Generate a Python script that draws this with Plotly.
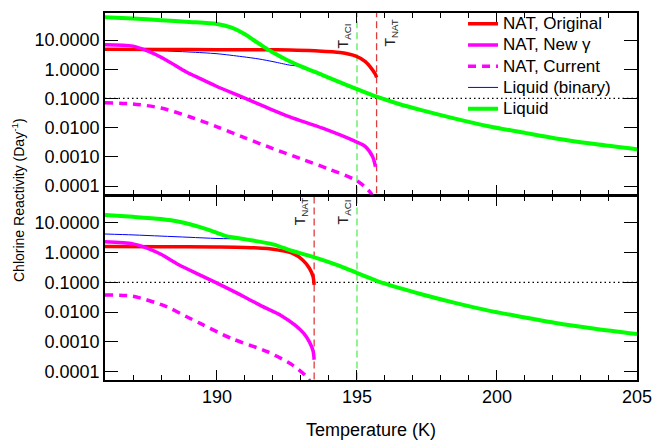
import plotly.graph_objects as go

# ---------------- data ----------------
# Top panel
liq_top_T = [186, 187, 188, 189, 190, 190.5, 191, 191.3, 191.7, 192.05, 192.5, 193, 193.77,
             194.4, 195.0, 195.7, 196.5, 197.3, 198.5, 199.7, 201, 202.1, 203.5, 205]
liq_top_v = [60.0, 54.3, 47.9, 41.7, 35.3, 26.9, 15.8, 10.0, 5.62, 3.51, 2.07, 1.26, 0.631,
             0.355, 0.209, 0.115, 0.0646, 0.0398, 0.0204, 0.0112, 0.00661, 0.00427, 0.00275, 0.00182]

bin_top_T = [186, 187, 188, 189, 190, 190.9, 191.5, 192, 192.3, 192.6, 193, 193.77, 194.4,
             195.0, 195.7, 196.5, 197.3, 198.5, 199.7, 201, 202.1, 203.5, 205]
bin_top_v = [4.79, 4.52, 4.27, 3.89, 3.39, 2.69, 2.24, 1.82, 1.58, 1.38, 1.23, 0.631, 0.355,
             0.209, 0.115, 0.0646, 0.0398, 0.0204, 0.0112, 0.00661, 0.00427, 0.00275, 0.00182]

orig_top_T = [186, 188, 190, 192, 192.6, 193.5, 194.4, 194.96, 195.3, 195.56, 195.66, 195.7]
orig_top_v = [4.79, 4.73, 4.68, 4.62, 4.57, 4.27, 3.72, 2.82, 1.82, 0.933, 0.66, 0.525]

newg_top_T = [186, 187.0, 187.58, 188.18, 188.89, 189.37, 189.96, 190.91, 191.75, 192.6,
              193.77, 194.96, 195.3, 195.56, 195.66]
newg_top_v = [6.9, 6.17, 3.98, 2.07, 0.822, 0.490, 0.266, 0.110, 0.0501, 0.0234,
              0.00955, 0.00331, 0.00224, 0.00100, 0.000457]

cur_top_T = [186, 187, 188, 189, 190, 191, 192, 193, 194, 195, 195.5, 195.6]
cur_top_v = [0.0708, 0.0646, 0.0468, 0.0240, 0.0107, 0.00447, 0.00191, 0.000851,
             0.000380, 0.000151, 0.0000562, 0.0000316]

# Bottom panel
liq_bot_T = [186, 187, 188, 188.65, 189.4, 190, 190.3, 191.04, 192, 192.7, 193.4, 194.6, 195.0,
             195.7, 196.5, 197.3, 198.5, 199.7, 201, 202.1, 203.5, 205]
liq_bot_v = [18.2, 15.8, 13.2, 10.7, 7.08, 4.57, 3.63, 2.75, 1.88, 1.12, 0.724, 0.295, 0.205,
             0.112, 0.0646, 0.0398, 0.0204, 0.0112, 0.00661, 0.00427, 0.00275, 0.00182]

bin_bot_T = [186, 187, 188, 189, 190, 191, 192, 192.7, 193.4, 194.6, 195.0, 195.7, 196.5,
             197.3, 198.5, 199.7, 201, 202.1, 203.5, 205]
bin_bot_v = [4.17, 3.89, 3.55, 3.24, 2.95, 2.75, 1.86, 1.11, 0.716, 0.295, 0.205, 0.112, 0.0646,
             0.0398, 0.0204, 0.0112, 0.00661, 0.00427, 0.00275, 0.00182]

orig_bot_T = [186, 188, 190, 191, 191.8, 192.2, 192.7, 193.06, 193.3, 193.43, 193.47]
orig_bot_v = [1.58, 1.57, 1.53, 1.48, 1.35, 1.20, 0.933, 0.562, 0.295, 0.155, 0.0813]

newg_bot_T = [186, 187, 187.5, 188, 188.65, 189.4, 190, 191, 191.6, 192.3, 192.8, 193.1,
              193.3, 193.43, 193.47]
newg_bot_v = [2.29, 1.95, 1.41, 0.871, 0.380, 0.174, 0.0933, 0.0316, 0.0158, 0.00759,
              0.00355, 0.00191, 0.00100, 0.000501, 0.000251]

cur_bot_T = [186, 187, 188.2, 188.9, 189.4, 190.5, 191.8, 192.7, 193.2, 193.4]
cur_bot_v = [0.0372, 0.0339, 0.0151, 0.00708, 0.00417, 0.00132, 0.000468, 0.000166,
             0.0000676, 0.0000355]

# Reference temperatures and levels
t_aci = 195.0
t_nat_top = 195.7
t_nat_bot = 193.47
ref_level = 0.1
x_range = [186, 205.001]
y_span = [1e-5, 1e3]

series_names = ["NAT, Original", "NAT, New γ", "NAT, Current", "Liquid (binary)", "Liquid"]

RED = "#ff0000"
MAG = "#ff00ff"
BLUE = "#0000ff"
GREEN = "#00ff00"

fig = go.Figure()


def add(T, v, yax, xax, color, width, dash="solid", name=None, rank=None, show=False, shape="spline"):
    label = None
    if name is not None:
        label = "<span style='font-size:17px'>" + name + "</span>"
    fig.add_trace(go.Scatter(
        x=T, y=v, xaxis=xax, yaxis=yax, mode="lines", name=label,
        line=dict(color=color, width=width, dash=dash, shape=shape, smoothing=0.8),
        showlegend=show, legendrank=rank if rank else 1000, hoverinfo="skip"))


# reference lines (top panel: x2/y2, bottom: x/y)
for xa, ya, tn in (("x2", "y2", t_nat_top), ("x", "y", t_nat_bot)):
    add([x_range[0], x_range[1]], [ref_level, ref_level], ya, xa, "#000000", 1.2,
        dash="1.5px,3px", shape="linear")
    add([t_aci, t_aci], y_span, ya, xa, "#55ee55", 1.3, dash="7px,4px", shape="linear")
    add([tn, tn], y_span, ya, xa, "#e03c3c", 1.3, dash="7px,4px", shape="linear")

# top panel
add(bin_top_T, bin_top_v, "y2", "x2", BLUE, 1, name=series_names[3], rank=4, show=True)
add(orig_top_T, orig_top_v, "y2", "x2", RED, 3.5, name=series_names[0], rank=1, show=True)
add(newg_top_T, newg_top_v, "y2", "x2", MAG, 3.5, name=series_names[1], rank=2, show=True)
add(cur_top_T, cur_top_v, "y2", "x2", MAG, 3.5, dash="8px,6px", name=series_names[2], rank=3, show=True)
add(liq_top_T, liq_top_v, "y2", "x2", GREEN, 4, name=series_names[4], rank=5, show=True)

# bottom panel
add(bin_bot_T, bin_bot_v, "y", "x", BLUE, 1)
add(orig_bot_T, orig_bot_v, "y", "x", RED, 3.5)
add(newg_bot_T, newg_bot_v, "y", "x", MAG, 3.5)
add(cur_bot_T, cur_bot_v, "y", "x", MAG, 3.5, dash="8px,6px")
add(liq_bot_T, liq_bot_v, "y", "x", GREEN, 4)

FONT = "Liberation Sans, Arial, Helvetica, sans-serif"
PLOT_H = 367.0
split_bot = 184.0 / PLOT_H          # top of lower panel (pixel 196)
split_top = 185.5 / PLOT_H          # bottom of upper panel (lines overlap)

xcommon = dict(range=x_range, showgrid=False, zeroline=False, showline=True, linecolor="black",
               linewidth=1.5, mirror="allticks", ticks="inside", ticklen=10, tickwidth=1.2,
               tickcolor="black", dtick=5, tick0=190, ticklabeloverflow="allow", automargin=False,
               minor=dict(dtick=1, ticks="inside", ticklen=5, tickwidth=1.2, tickcolor="black"),
               tickfont=dict(size=18, color="black", family=FONT))
ycommon = dict(type="log", showgrid=False, zeroline=False, showline=True, linecolor="black",
               linewidth=1.5, mirror="allticks", ticks="inside", ticklen=13, tickwidth=1.2,
               tickcolor="black", dtick=1, tickformat=".4f", automargin=False,
               tickfont=dict(size=18, color="black", family=FONT))

fig.update_layout(
    width=652, height=445,
    margin=dict(l=105, r=15, t=13, b=65, pad=0, autoexpand=False),
    paper_bgcolor="white", plot_bgcolor="white",
    font=dict(family=FONT, color="black"),
    xaxis=dict(**xcommon, anchor="y", domain=[0, 1]),
    xaxis2=dict(**xcommon, anchor="y2", matches="x", showticklabels=False, domain=[0, 1]),
    yaxis=dict(**ycommon, domain=[0, split_bot], range=[-4.28, 1.896], anchor="x"),
    yaxis2=dict(**ycommon, domain=[split_top, 1], range=[-4.29, 1.925], anchor="x2"),
    showlegend=True,
    legend=dict(x=0.673, y=1.013, xanchor="left", yanchor="top", bgcolor="rgba(0,0,0,0)",
                font=dict(size=14, family=FONT, color="black"), tracegroupgap=0,
                itemwidth=30),
)


def ypaper(px):
    return (380 - px) / PLOT_H


ann = [
    dict(x=t_aci - 0.45, y=ypaper(36), text="T<sub>ACI</sub>"),
    dict(x=t_nat_top + 0.5, y=ypaper(33), text="T<sub>NAT</sub>"),
    dict(x=t_nat_bot - 0.46, y=ypaper(212), text="T<sub>NAT</sub>"),
    dict(x=t_aci - 0.45, y=ypaper(212), text="T<sub>ACI</sub>"),
]
for a in ann:
    fig.add_annotation(x=a["x"], y=a["y"], xref="x", yref="paper", text=a["text"],
                       textangle=-90, showarrow=False, xanchor="center", yanchor="middle",
                       font=dict(size=14, color="#222222", family=FONT))

fig.add_annotation(x=(18 - 105) / 532.0, y=ypaper(200), xref="paper", yref="paper",
                   text="Chlorine Reactivity (Day<sup>-1</sup>)", textangle=-90, showarrow=False,
                   xanchor="center", yanchor="middle", font=dict(size=14, color="black", family=FONT))
fig.add_annotation(x=0.5, y=ypaper(430), xref="paper", yref="paper", text="Temperature (K)",
                   showarrow=False, xanchor="center", yanchor="middle",
                   font=dict(size=18, color="black", family=FONT))

fig.write_html("out.html", config={"displayModeBar": False},
               post_script="document.body.style.margin='0px';")
